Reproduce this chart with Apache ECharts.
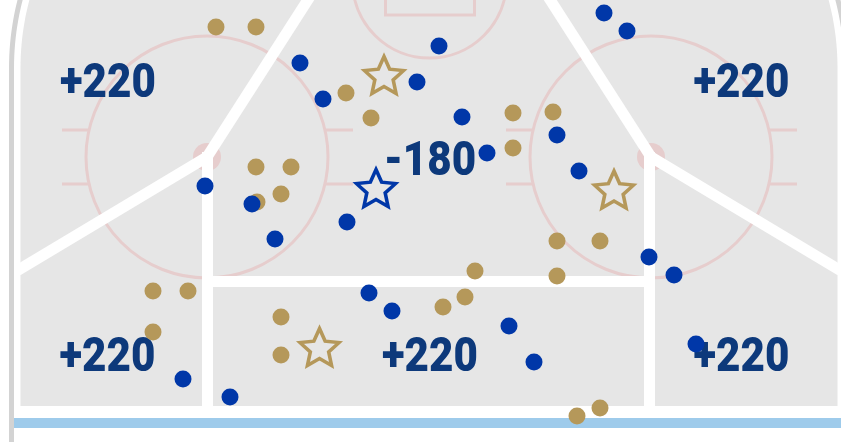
<!DOCTYPE html>
<html>
<head>
<meta charset="utf-8">
<script src="https://cdn.jsdelivr.net/npm/echarts@6/dist/echarts.min.js"></script>
<style>
html,body{margin:0;padding:0;background:#fff;}
#chart{width:841px;height:442px;}
</style>
</head>
<body>
<div id="chart"></div>
<script>
// rink units: x across the zone, y from the top of the picture down to the blue line
const blueShotsX = [162, 300, 323, 439, 417, 205, 252, 275, 347, 604, 627, 462, 487, 557, 579, 183, 230, 369, 392, 509, 534, 649, 674, 696];
const blueShotsY = [-3, 63, 99, 46, 82, 186, 204, 239, 222, 13, 31, 117, 153, 135, 171, 379, 397, 293, 311, 326, 362, 257, 275, 344];
const goldShotsX = [216, 256, 346, 371, 256, 291, 281, 257, 676, 711, 513, 553, 513, 153, 188, 153, 281, 281, 557, 600, 557, 475, 465, 443, 577, 600];
const goldShotsY = [27, 27, 93, 118, 167, 167, 194, 202, -1, -1, 113, 112, 148, 291, 291, 332, 317, 355, 241, 241, 276, 271, 297, 307, 416, 408];
const goldGoalsX = [384, 614, 319.5];
const goldGoalsY = [75, 189.5, 347];
const blueGoalsX = [376];
const blueGoalsY = [188];
const zoneLabels = ['+220', '+220', '-180', '+220', '+220', '+220'];
const zoneX = [108, 741.5, 430, 107.5, 430, 741.5];
const zoneY = [81, 81, 159, 355, 355, 355];

const starPath = 'path://M50,0L63.81,30.99L97.55,34.55L72.35,57.26L79.39,90.45L50,73.5L20.61,90.45L27.65,57.26L2.45,34.55L36.19,30.99Z';

function arcPts(cx, cy, r, a0, a1, n) {
    const pts = [];
    for (let i = 0; i <= n; i++) {
        const a = (a0 + (a1 - a0) * i / n) * Math.PI / 180;
        pts.push([cx + r * Math.cos(a), cy + r * Math.sin(a)]);
    }
    return pts;
}

function drawRink(params, api) {
    const c = p => api.coord(p);
    const pink = '#e6cdcd';
    const ice = [[20.5, 406], [20.5, 68]]
        .concat(arcPts(285.5, 68, 265, 180, 218, 30))
        .concat(arcPts(572.5, 68, 265, 322, 360, 30))
        .concat([[837.5, 68], [837.5, 406]]);
    const boardL = [[11.5, 460], [11.5, 68]].concat(arcPts(285.5, 68, 274, 180, 218, 30));
    const boardR = [[846.5, 460], [846.5, 68]].concat(arcPts(572.5, 68, 274, 360, 322, 30));
    const children = [];
    children.push({type: 'polygon', shape: {points: ice.map(c)}, style: {fill: '#e6e6e6'}});
    const bl0 = c([12, 418]), bl1 = c([860, 428]);
    children.push({type: 'rect', shape: {x: bl0[0], y: bl0[1], width: bl1[0] - bl0[0], height: bl1[1] - bl0[1]}, style: {fill: '#9ecbeb'}});
    [boardL, boardR].forEach(b => children.push({type: 'polyline', shape: {points: b.map(c)}, style: {stroke: '#d3d3d3', lineWidth: 5, fill: null}}));
    // crease
    const cr = c([429.5, -19]);
    children.push({type: 'circle', shape: {cx: cr[0], cy: cr[1], r: api.size([77, 0])[0]}, style: {stroke: pink, lineWidth: 3, fill: null}});
    const r0 = c([385.5, -60]), r1 = c([474.5, 15]);
    children.push({type: 'rect', shape: {x: r0[0], y: r0[1], width: r1[0] - r0[0], height: r1[1] - r0[1]}, style: {stroke: pink, lineWidth: 3, fill: null}});
    // faceoff circles
    [207, 651].forEach(fx => {
        const fc = c([fx, 157]);
        children.push({type: 'circle', shape: {cx: fc[0], cy: fc[1], r: api.size([121, 0])[0]}, style: {stroke: pink, lineWidth: 3, fill: null}});
        [130, 184].forEach(hy => {
            [[fx - 145, fx - 118], [fx + 118, fx + 146]].forEach(h => {
                const a = c([h[0], hy]), b = c([h[1], hy]);
                children.push({type: 'line', shape: {x1: a[0], y1: a[1], x2: b[0], y2: b[1]}, style: {stroke: pink, lineWidth: 3}});
            });
        });
        children.push({type: 'circle', shape: {cx: fc[0], cy: fc[1], r: api.size([14, 0])[0]}, style: {fill: pink}});
    });
    // zone dividers
    const lines = [
        [[207, 157], [327, -30]],
        [[651, 157], [531, -30]],
        [[207, 157], [17.5, 270.5]],
        [[651, 157], [840.5, 270.5]],
        [[207.5, 152], [207.5, 410]],
        [[649.5, 152], [649.5, 410]],
        [[207.5, 281.5], [649.5, 281.5]]
    ];
    lines.forEach(l => {
        const a = c(l[0]), b = c(l[1]);
        children.push({type: 'line', shape: {x1: a[0], y1: a[1], x2: b[0], y2: b[1]}, style: {stroke: '#fff', lineWidth: 11}});
    });
    return {type: 'group', children: children};
}

const chart = echarts.init(document.getElementById('chart'));
const option = {
    animation: false,
    grid: {left: 0, right: 0, top: 0, bottom: 0},
    xAxis: {type: 'value', min: 0, max: 841, show: false},
    yAxis: {type: 'value', min: 0, max: 442, inverse: true, show: false},
    series: [
        {
            type: 'custom',
            z: 1,
            silent: true,
            clip: false,
            data: [[0, 0]],
            renderItem: drawRink
        },
        {
            type: 'custom',
            z: 2,
            silent: true,
            data: zoneLabels.map((t, i) => [zoneX[i], zoneY[i]]),
            renderItem: function (params, api) {
                const p = api.coord([api.value(0), api.value(1)]);
                return {
                    type: 'text',
                    x: p[0],
                    y: p[1] + 4,
                    scaleX: 0.86,
                    style: {
                        text: zoneLabels[params.dataIndex],
                        fill: '#0d397b',
                        font: '900 49px Roboto',
                        align: 'center',
                        verticalAlign: 'middle'
                    }
                };
            }
        },
        {
            type: 'scatter',
            z: 3,
            symbol: 'circle',
            symbolSize: 17,
            itemStyle: {color: '#b5985a', opacity: 1},
            data: goldShotsX.map((x, i) => [x, goldShotsY[i]])
        },
        {
            type: 'scatter',
            z: 4,
            symbol: 'circle',
            symbolSize: 17,
            itemStyle: {color: '#0037a8', opacity: 1},
            data: blueShotsX.map((x, i) => [x, blueShotsY[i]])
        },
        {
            type: 'scatter',
            z: 5,
            symbol: starPath,
            symbolSize: [39, 37],
            itemStyle: {color: 'rgba(0,0,0,0)', borderColor: '#b5985a', borderWidth: 3.5, opacity: 1},
            data: goldGoalsX.map((x, i) => [x, goldGoalsY[i]])
        },
        {
            type: 'scatter',
            z: 5,
            symbol: starPath,
            symbolSize: [39, 37],
            itemStyle: {color: 'rgba(0,0,0,0)', borderColor: '#0037a8', borderWidth: 3.5, opacity: 1},
            data: blueGoalsX.map((x, i) => [x, blueGoalsY[i]])
        }
    ]
};
chart.setOption(option);
</script>
</body>
</html>
